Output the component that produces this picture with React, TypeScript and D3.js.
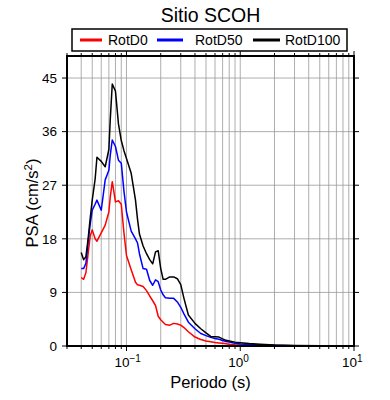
import React from "react";
import * as d3 from "d3";

const title = "Sitio SCOH";
const seriesNames = ["RotD0", "RotD50", "RotD100"];
const seriesColors = ["#ff0000", "#0000ff", "#000000"];

const periods = [0.04, 0.042, 0.044, 0.046, 0.048, 0.05, 0.053, 0.055, 0.06, 0.065, 0.07, 0.072, 0.075, 0.08, 0.085, 0.09, 0.095, 0.1, 0.11, 0.12, 0.125, 0.13, 0.14, 0.15, 0.16, 0.17, 0.18, 0.19, 0.2, 0.21, 0.22, 0.24, 0.26, 0.28, 0.3, 0.32, 0.35, 0.4, 0.45, 0.5, 0.55, 0.6, 0.65, 0.7, 0.75, 0.8, 0.9, 1.0, 1.2, 1.5, 2, 3, 5, 7.5, 10];

const rotD0 = [11.5, 11.2, 12.3, 15.5, 18.5, 19.5, 18.0, 17.6, 19.0, 20.3, 22.5, 25.0, 27.6, 24.2, 24.4, 23.8, 19.0, 15.2, 12.8, 10.7, 10.3, 10.2, 10.0, 9.3, 8.4, 7.6, 6.8, 5.0, 4.4, 4.0, 3.6, 3.5, 3.8, 3.7, 3.5, 3.1, 2.4, 1.5, 1.1, 0.85, 0.72, 0.6, 0.52, 0.45, 0.38, 0.3, 0.22, 0.17, 0.12, 0.08, 0.05, 0.03, 0.02, 0.01, 0.01];

const rotD50 = [13.0, 13.0, 13.9, 17.5, 20.5, 22.8, 23.8, 24.5, 22.8, 27.9, 29.5, 32.0, 34.6, 33.5, 31.2, 30.7, 26.0, 22.5, 19.3, 18.0, 17.3, 15.5, 13.0, 12.9, 11.0, 10.2, 11.1, 10.8, 9.4, 8.6, 8.1, 8.0, 8.0, 7.4, 6.5, 5.4, 4.0, 2.9, 2.1, 1.75, 1.45, 1.25, 1.12, 0.92, 0.75, 0.65, 0.45, 0.35, 0.25, 0.18, 0.12, 0.06, 0.03, 0.015, 0.01];

const rotD100 = [15.7, 14.5, 15.0, 18.0, 21.5, 24.5, 28.0, 31.7, 31.0, 30.1, 33.0, 38.0, 44.0, 42.8, 37.3, 34.5, 32.8, 31.5, 29.0, 24.5, 21.3, 18.8, 16.8, 15.5, 14.5, 13.8, 15.8, 16.0, 13.0, 11.2, 11.2, 11.6, 11.6, 11.3, 10.3, 8.0, 5.2, 3.8, 2.9, 2.2, 1.6, 1.55, 1.5, 1.2, 0.95, 0.85, 0.65, 0.55, 0.4, 0.28, 0.15, 0.08, 0.04, 0.02, 0.01];

const yTicks = [0, 9, 18, 27, 36, 45];
const xMajorTicks = [0.1, 1, 10];
const xMajorExponents = ["\u22121", "0", "1"];

const FONT = "'Liberation Sans', Arial, Helvetica, sans-serif";

export default function App() {
  const W = 390, H = 400;
  const left = 67, right = 354, top = 56, bottom = 346;

  const x = d3.scaleLog().domain([0.03, 10]).range([left, right]);
  const y = d3.scaleLinear().domain([0, 48.7]).range([bottom, top]);

  const minorTicks: number[] = [];
  for (let e = -2; e <= 1; e++) {
    for (let m = 1; m <= 9; m++) {
      const v = m * Math.pow(10, e);
      if (v >= 0.03 - 1e-9 && v <= 10 + 1e-9) minorTicks.push(v);
    }
  }

  const series = [rotD0, rotD50, rotD100];
  const line = d3
    .line<number>()
    .x((_, i) => x(periods[i]))
    .y((d) => y(d));

  const legendItems = [
    { x1: 80, x2: 102, tx: 108 },
    { x1: 157, x2: 183, tx: 195 },
    { x1: 253, x2: 280, tx: 285 },
  ];

  return (
    <svg
      width={W}
      height={H}
      style={{ position: "absolute", left: 0, top: 0, background: "#fff" }}
      fontFamily={FONT}
    >
      <rect x={0} y={0} width={W} height={H} fill="#fff" />
      {minorTicks.map((t, i) => (
        <line key={"gx" + i} x1={x(t)} x2={x(t)} y1={top} y2={bottom} stroke="#999" strokeWidth={0.8} />
      ))}
      {yTicks.map((t, i) => (
        <line key={"gy" + i} x1={left} x2={right} y1={y(t)} y2={y(t)} stroke="#999" strokeWidth={0.8} />
      ))}
      {series.map((s, i) => (
        <path key={"s" + i} d={line(s) || ""} fill="none" stroke={seriesColors[i]} strokeWidth={1.5} strokeLinejoin="round" />
      ))}
      {minorTicks.map((t, i) => {
        const major = xMajorTicks.some((m) => Math.abs(m - t) < 1e-9);
        const len = major ? 5 : 3;
        return (
          <g key={"tx" + i}>
            <line x1={x(t)} x2={x(t)} y1={bottom} y2={bottom + len} stroke="#000" strokeWidth={1} />
            <line x1={x(t)} x2={x(t)} y1={top} y2={top - len} stroke="#000" strokeWidth={1} />
          </g>
        );
      })}
      {yTicks.map((t, i) => (
        <g key={"ty" + i}>
          <line x1={left - 5} x2={left} y1={y(t)} y2={y(t)} stroke="#000" strokeWidth={1} />
          <line x1={right} x2={right + 5} y1={y(t)} y2={y(t)} stroke="#000" strokeWidth={1} />
          <text x={57} y={y(t) + 4.7} textAnchor="end" fontSize={13.5} fill="#000">
            {t}
          </text>
        </g>
      ))}
      <rect x={left} y={top} width={right - left} height={bottom - top} fill="none" stroke="#000" strokeWidth={2} />
      {xMajorTicks.map((t, i) => (
        <text key={"xl" + i} x={x(t) - 12} y={367} fontSize={13.5} fill="#000">
          10
          <tspan dy={-5.5} fontSize={10}>
            {xMajorExponents[i]}
          </tspan>
        </text>
      ))}
      <text x={(left + right) / 2} y={388} textAnchor="middle" fontSize={16.5} fill="#000">
        Periodo (s)
      </text>
      <text transform={`translate(38,${(top + bottom) / 2 + 2}) rotate(-90)`} textAnchor="middle" fontSize={16.5} fill="#000">
        PSA (cm/s<tspan dy={-6} fontSize={11.5}>2</tspan>
        <tspan dy={6}>)</tspan>
      </text>
      <text x={(left + right) / 2} y={22} textAnchor="middle" fontSize={19.5} fill="#000">
        {title}
      </text>
      <rect x={72} y={29} width={275} height={22} fill="#fff" stroke="#000" strokeWidth={1.5} />
      {legendItems.map((it, i) => (
        <g key={"lg" + i}>
          <line x1={it.x1} x2={it.x2} y1={40} y2={40} stroke={seriesColors[i]} strokeWidth={3} />
          <text x={it.tx} y={45} fontSize={14} fill="#000">
            {seriesNames[i]}
          </text>
        </g>
      ))}
    </svg>
  );
}
